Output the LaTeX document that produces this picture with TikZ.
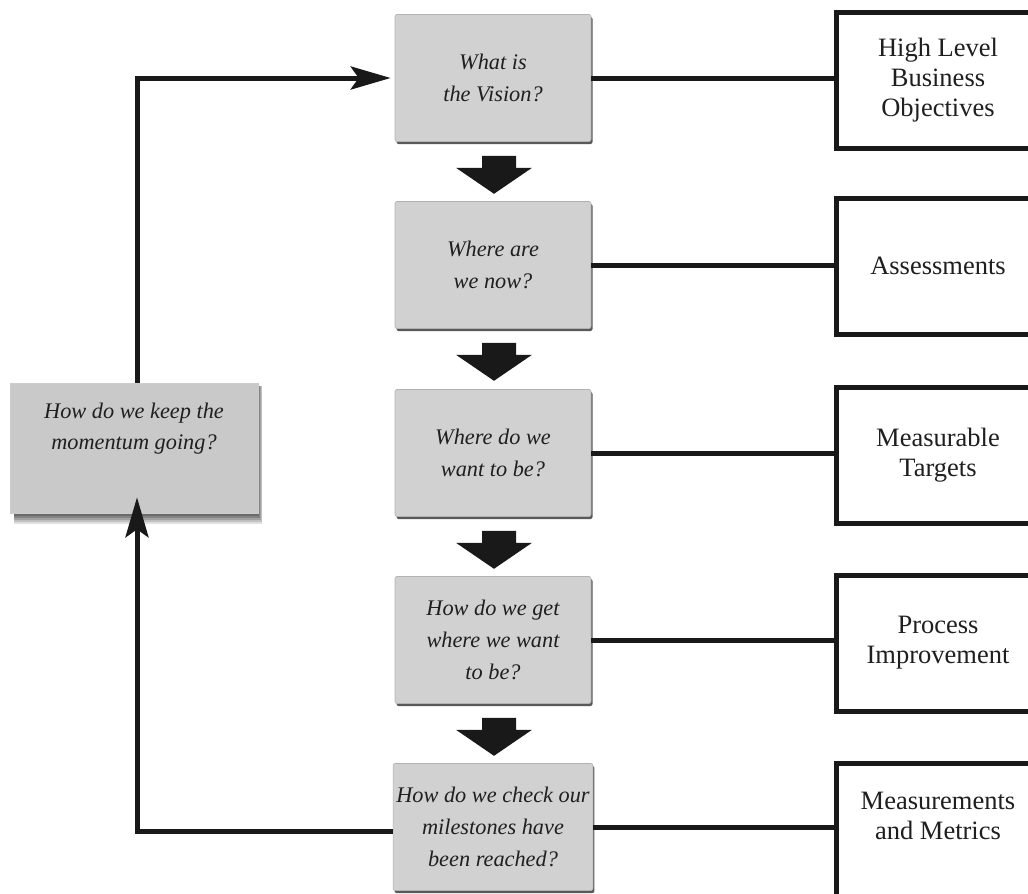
\documentclass[tikz,border=0pt]{standalone}
\usepackage{fontspec}
\setmainfont{Liberation Serif}
\usetikzlibrary{arrows.meta,calc,shadows}
\begin{document}
\begin{tikzpicture}[x=1pt,y=-1pt,
  qbox/.style={draw=black!30, line width=0.6pt, fill=black!18, rounded corners=2pt,
    minimum width=196pt, minimum height=127pt, align=center, text=black!88,
    font=\itshape\fontsize{22.3}{32}\selectfont,
    drop shadow={shadow xshift=1.5pt, shadow yshift=-2.5pt, fill=black!65, opacity=1}},
  lbox/.style={draw=black!20, line width=0.6pt, fill=black!21,
    minimum width=248pt, minimum height=130pt, align=center, text=black!88,
    font=\itshape\fontsize{22.3}{31}\selectfont},
  rbox/.style={draw=black!90, line width=5pt, fill=white,
    minimum width=204pt, minimum height=136pt, align=center, text=black!88,
    font=\fontsize{26.5}{30}\selectfont},
  link/.style={draw=black!90, line width=5pt},
  loop/.style={draw=black!90, line width=5pt, -{Stealth[length=40pt,width=23pt,inset=8pt]}},
  darrow/.style={fill=black!90, draw=none}
]
\useasboundingbox (0,0) rectangle (1028,894);

% soft shadow of the left box
\foreach \d/\o in {11/0.12,9/0.14,7/0.16,5/0.18,3/0.2}{
  \fill[black, opacity=\o] (14,386) rectangle (258+\d*0.4,513+\d);
}

% question boxes
\node[qbox] (g1) at (493,78)  {What is\\the Vision?};
\node[qbox] (g2) at (493,265) {Where are\\we now?};
\node[qbox] (g3) at (493,453) {Where do we\\want to be?};
\node[qbox] (g4) at (493,640) {How do we get\\where we want\\to be?};
\node[qbox] (g5) at (493,827) {How do we check our\\milestones have\\been reached?};

% left box
\node[lbox] (lk) at (134,448) {How do we keep the\\momentum going?\\[12pt]};

% right boxes
\node[rbox] (r1) at (938,80)  {High Level\\Business\\Objectives};
\node[rbox] (r2) at (938,266) {Assessments};
\node[rbox] (r3) at (938,455) {Measurable\\Targets};
\node[rbox] (r4) at (938,643) {Process\\Improvement};
\node[rbox] (r5) at (938,831) {Measurements\\and Metrics\\~};

% links
\foreach \i in {1,...,5}{
  \draw[link] (g\i.east) -- (g\i.east -| r\i.west);
}

% down arrows
\foreach \i in {1,2,3,4}{
  \path ($(g\i.south)+(0,14)$) coordinate (t\i);
  \fill[darrow] ($(t\i)+(-11,0)$) -- ($(t\i)+(23,0)$) -- ($(t\i)+(23,12)$) -- ($(t\i)+(39,12)$)
     -- ($(t\i)+(1,38)$) -- ($(t\i)+(-37,12)$) -- ($(t\i)+(-11,12)$) -- cycle;
}

% loop
\coordinate (c1) at (137,78);
\coordinate (c2) at (137,831);
\draw[loop] (lk.north -| c1) -- (c1) -- ([xshift=-4pt]g1.west);
\draw[loop] (g5.west |- c2) -- (c2) -- ([yshift=16pt]lk.south -| c1);
\end{tikzpicture}
\end{document}
